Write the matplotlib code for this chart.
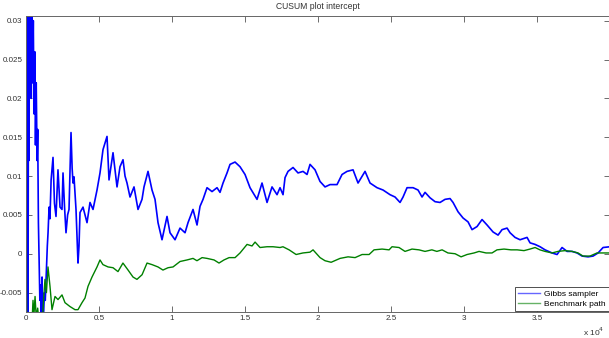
import matplotlib
matplotlib.use("Agg")
import matplotlib.pyplot as plt
from matplotlib.ticker import FuncFormatter

# CUSUM of the intercept draws: Gibbs sampler vs. benchmark path
gibbs_iter = [
    10, 30, 50, 80, 110, 140, 170, 200, 240, 280, 320, 360, 400, 450, 500,
    550, 600, 650, 700, 760, 800, 850, 900, 950, 1000, 1050, 1100, 1150, 1200,
    1260, 1320, 1400, 1460, 1510, 1580, 1640, 1720, 1850, 1950, 2055, 2190,
    2330, 2466, 2535, 2640, 2740, 2850, 2946, 3083, 3160, 3220, 3288, 3425,
    3562, 3630, 3699, 3905, 4179, 4384, 4590, 4864, 5069, 5274, 5549, 5686,
    5960, 6234, 6439, 6645, 6782, 6919, 7124, 7398, 7672, 7946, 8083, 8357,
    8631, 8837, 9042, 9316, 9659, 9864, 10207, 10549, 10892, 11097, 11440,
    11714, 11919, 12125, 12399, 12741, 13084, 13289, 13495, 13769, 13974,
    14317, 14659, 15002, 15344, 15824, 16166, 16509, 16851, 17194, 17399,
    17605, 17742, 17947, 18290, 18632, 18975, 19249, 19454, 19797, 20139,
    20482, 20824, 21304, 21646, 21989, 22400, 22742, 23222, 23564, 24044,
    24455, 24934, 25277, 25619, 25825, 26099, 26510, 26852, 27126, 27332,
    27674, 28017, 28359, 28702, 29044, 29250, 29592, 29935, 30277, 30551,
    30894, 31236, 31579, 31990, 32332, 32606, 32949, 33154, 33497, 33839,
    34319, 34524, 34867, 35209, 35552, 36031, 36374, 36716, 37059, 37401,
    37744, 38086, 38497, 38840, 39182, 39525, 40000,
]
gibbs_cusum = [
    0.019, -0.006, 0.036, 0.004, 0.034, -0.010, 0.030, 0.012, 0.036, 0.024,
    0.032, 0.020, 0.034, 0.022, 0.030, 0.018, 0.026, 0.014, 0.022, 0.012,
    0.016, 0.004, -0.001, -0.006, -0.004, -0.009, -0.003, -0.010, -0.008,
    -0.005, -0.006, -0.002, 0.001, 0.0027, 0.0060, 0.0045, 0.0095, 0.0124,
    0.0065, 0.0048, 0.0108, 0.0060, 0.0057, 0.0104, 0.0060, 0.0027, 0.0050,
    0.0057, 0.0156, 0.0110, 0.0091, 0.0099, 0.0057, -0.0012, 0.0010, 0.0053,
    0.0060, 0.0040, 0.0066, 0.0057, 0.0082, 0.0104, 0.0134, 0.0151, 0.0095,
    0.0130, 0.0086, 0.0112, 0.0121, 0.0100, 0.0091, 0.0073, 0.0086, 0.0057,
    0.0070, 0.0086, 0.0106, 0.0082, 0.0070, 0.0040, 0.0018, 0.0048, 0.0027,
    0.0018, 0.0033, 0.0027, 0.0040, 0.0057, 0.0037, 0.0061, 0.0070, 0.0085,
    0.0080, 0.0085, 0.0079, 0.0091, 0.0104, 0.0115, 0.0118, 0.0112, 0.0102,
    0.0085, 0.0070, 0.0091, 0.0066, 0.0086, 0.0076, 0.0085, 0.0076, 0.0098,
    0.0106, 0.0111, 0.0104, 0.0106, 0.0102, 0.0115, 0.0108, 0.0093, 0.0086,
    0.0089, 0.0089, 0.0102, 0.0106, 0.0108, 0.0091, 0.0106, 0.0091, 0.0085,
    0.0082, 0.0076, 0.0073, 0.0066, 0.0073, 0.0085, 0.0085, 0.0082, 0.0073,
    0.0079, 0.0072, 0.0067, 0.0066, 0.0070, 0.0071, 0.0066, 0.0054, 0.0046,
    0.0041, 0.0031, 0.0035, 0.0044, 0.0037, 0.0028, 0.0024, 0.0031, 0.0033,
    0.0027, 0.0021, 0.0018, 0.0021, 0.0014, 0.0012, 0.0009, 0.0005, 0.0001,
    -0.0001, 0.0008, 0.0003, 0.0003, 0.0001, -0.0003, -0.0004, -0.0003,
    0.0001, 0.0008, 0.0009,
]

bench_iter = [
    0, 15, 30, 50, 150, 300, 420, 480, 540, 620, 700, 800, 900, 1000, 1100,
    1200, 1300, 1400, 1507, 1644, 1781, 1987, 2192, 2466, 2671, 3014, 3356,
    3562, 3836, 4041, 4247, 4521, 4864, 5069, 5270, 5620, 5960, 6300, 6640,
    6990, 7330, 7600, 7950, 8290, 8630, 9040, 9380, 9730, 10070, 10550, 11030,
    11440, 11710, 12060, 12400, 12880, 13220, 13560, 13910, 14320, 14660,
    15140, 15480, 15690, 16030, 16510, 16920, 17400, 17600, 18020, 18500,
    18970, 19450, 19660, 20140, 20480, 20900, 21510, 22060, 22540, 23020,
    23500, 23840, 24390, 24870, 25070, 25550, 25960, 26440, 26920, 27330,
    27800, 28140, 28500, 28900, 29390, 29800, 30210, 30690, 31030, 31510,
    31920, 32260, 32740, 33220, 33640, 34110, 34520, 34870, 35200, 35550,
    36030, 36440, 36920, 37400, 37810, 38150, 38630, 39110, 39520, 40000,
]
bench_cusum = [
    0.033, 0.010, -0.004, -0.010, -0.011, -0.009, -0.0085, -0.0060, -0.0080,
    -0.0055, -0.0082, -0.0070, -0.0090, -0.0080, -0.0095, -0.0060, -0.0033,
    -0.0050, -0.0017, -0.0042, -0.0072, -0.0055, -0.0059, -0.0053, -0.0063,
    -0.0068, -0.0072, -0.0072, -0.0063, -0.0057, -0.0042, -0.0030, -0.0017,
    -0.0008, -0.0014, -0.0017, -0.0018, -0.0023, -0.0012, -0.0021, -0.0030,
    -0.0033, -0.0027, -0.0012, -0.0014, -0.0017, -0.0021, -0.0018, -0.0017,
    -0.0010, -0.0008, -0.0006, -0.0009, -0.0005, -0.0006, -0.0008, -0.0012,
    -0.0008, -0.0005, -0.0005, 0.0001, 0.0012, 0.0010, 0.0015, 0.0008,
    0.0009, 0.0009, 0.0008, 0.0009, 0.0005, -0.0001, 0.0001, 0.0002, 0.0005,
    -0.0005, -0.0009, -0.0011, -0.0006, -0.0004, -0.0005, -0.0001, -0.0001,
    0.0005, 0.0006, 0.0005, 0.0009, 0.0008, 0.0003, 0.0006, 0.0005, 0.0003,
    0.0005, 0.0003, 0.0005, 0.0001, 0.0000, -0.0004, -0.0001, 0.0001, 0.0003,
    0.0001, 0.0001, 0.0005, 0.0006, 0.0005, 0.0005, 0.0004, 0.0006, 0.0008,
    0.0005, 0.0003, 0.0001, 0.0003, 0.0004, 0.0003, 0.0001, -0.0003, -0.0003,
    0.0001, 0.0001, 0.0001,
]

series_labels = ["Gibbs sampler", "Benchmark path"]
series_colors = ["#0000ff", "#008000"]
y_ticks = [-0.005, 0, 0.005, 0.01, 0.015, 0.02, 0.025, 0.03]
x_ticks = [0, 5000, 10000, 15000, 20000, 25000, 30000, 35000]

plt.rcParams["font.family"] = ["Liberation Sans", "DejaVu Sans"]

fig = plt.figure(figsize=(6.09, 3.38), dpi=100)
ax = fig.add_axes([26 / 609, 1 - 312 / 338, 584 / 609, 296 / 338])

ax.plot(gibbs_iter, gibbs_cusum, color=series_colors[0], lw=1.2,
        label=series_labels[0])
ax.plot(bench_iter, bench_cusum, color=series_colors[1], lw=1.0,
        label=series_labels[1])

ax.set_xlim(0, 40000)
ax.set_ylim(-0.0075, 0.0306)
ax.set_xticks(x_ticks)
ax.set_yticks(y_ticks)
ax.xaxis.set_major_formatter(FuncFormatter(lambda v, p: f"{v / 1e4:g}"))
ax.yaxis.set_major_formatter(FuncFormatter(lambda v, p: f"{v:g}"))

ax.tick_params(direction="in", length=4, width=0.6, colors="#555555",
               labelsize=5.8, labelcolor="#333333", top=True, right=True,
               pad=2.5)
for s in ax.spines.values():
    s.set_color("#666666")
    s.set_linewidth(0.7)

ax.set_title("CUSUM plot intercept", fontsize=6.2, color="#333333", pad=5)
ax.text(0.953, -0.045, r"x 10$^4$", transform=ax.transAxes, fontsize=6,
        color="#333333", ha="left", va="top")

leg = ax.legend(loc="lower right", fontsize=6, frameon=True, fancybox=False,
                edgecolor="#333333", framealpha=1, handlelength=2.7,
                borderpad=0.35, labelspacing=0.25, handletextpad=0.5,
                borderaxespad=0.15)
leg.get_frame().set_linewidth(0.6)
for line, c in zip(leg.get_lines(), series_colors):
    line.set_color(c)
    line.set_linewidth(1.0)
    line.set_alpha(0.6)

fig.savefig("out.png", dpi=100)
